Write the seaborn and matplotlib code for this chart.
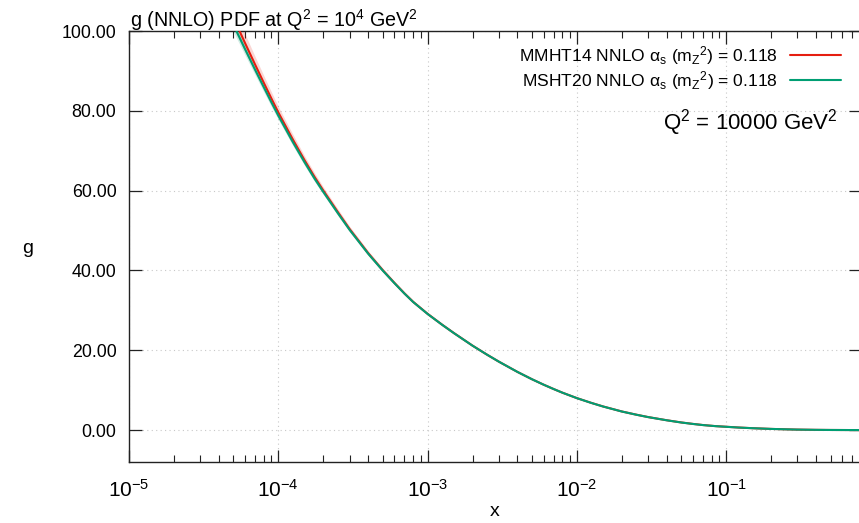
import numpy as np
import pandas as pd
import matplotlib
matplotlib.use("Agg")
import matplotlib.pyplot as plt
import matplotlib.ticker as mticker
from matplotlib.lines import Line2D
import seaborn as sns

# ---- data ----
x_vals = [4.5e-5, 5e-5, 6e-5, 7e-5, 8e-5, 9e-5,
          1e-4, 1.25e-4, 1.5e-4, 1.75e-4, 2e-4, 2.5e-4, 3e-4, 4e-4, 5e-4, 6e-4, 7e-4, 8e-4,
          1e-3, 1.25e-3, 1.5e-3, 2e-3, 2.5e-3, 3e-3, 4e-3, 5e-3, 6e-3, 7e-3, 8e-3,
          1e-2, 1.25e-2, 1.5e-2, 2e-2, 2.5e-2, 3e-2, 4e-2, 5e-2, 6e-2, 7e-2, 8.5e-2,
          0.1, 0.12, 0.15, 0.2, 0.25, 0.3, 0.4, 0.5, 0.65, 0.8]
g_mmht14 = [107.3, 103.4, 96.9, 91.55, 87.0, 83.05,
            79.6, 72.85, 67.6, 63.42, 60.05, 54.67, 50.4, 44.34, 40.1, 36.87, 34.25, 32.14,
            29.13, 26.42, 24.32, 21.16, 18.9, 17.15, 14.57, 12.74, 11.36, 10.27, 9.37,
            8.01, 6.81, 5.91, 4.66, 3.86, 3.26, 2.46, 1.91, 1.54, 1.26, 0.99,
            0.83, 0.65, 0.47, 0.29, 0.19, 0.12, 0.055, 0.025, 0.008, 0.002]
err_mmht14 = [3.0, 2.7, 2.3, 2.0, 1.8, 1.65,
              1.5, 1.3, 1.1, 1.0, 0.9, 0.8, 0.7, 0.6, 0.5, 0.45, 0.4, 0.37,
              0.35, 0.32, 0.3, 0.25, 0.22, 0.2, 0.19, 0.18, 0.16, 0.15, 0.14,
              0.12, 0.11, 0.1, 0.08, 0.075, 0.07, 0.06, 0.05, 0.045, 0.04, 0.035,
              0.03, 0.025, 0.02, 0.015, 0.012, 0.01, 0.007, 0.005, 0.003, 0.001]
g_msht20 = [105.3, 101.6, 95.4, 90.25, 85.9, 82.1,
            78.8, 72.2, 67.1, 63.0, 59.7, 54.4, 50.2, 44.2, 40.0, 36.8, 34.2, 32.1,
            29.1, 26.4, 24.3, 21.15, 18.9, 17.15, 14.57, 12.74, 11.36, 10.27, 9.37,
            8.0, 6.8, 5.9, 4.65, 3.85, 3.25, 2.45, 1.9, 1.53, 1.25, 0.98,
            0.82, 0.64, 0.47, 0.29, 0.19, 0.12, 0.055, 0.025, 0.008, 0.002]
err_msht20 = [2.0, 1.8, 1.5, 1.3, 1.2, 1.1,
              1.0, 0.9, 0.8, 0.7, 0.6, 0.55, 0.5, 0.45, 0.4, 0.35, 0.3, 0.28,
              0.25, 0.23, 0.2, 0.18, 0.16, 0.15, 0.14, 0.13, 0.12, 0.11, 0.1,
              0.09, 0.08, 0.07, 0.06, 0.055, 0.05, 0.045, 0.04, 0.035, 0.03, 0.025,
              0.02, 0.018, 0.015, 0.01, 0.009, 0.008, 0.006, 0.004, 0.002, 0.001]
labels = [r"MMHT14 NNLO $\alpha_s$ ($m_Z{}^2$) = 0.118",
          r"MSHT20 NNLO $\alpha_s$ ($m_Z{}^2$) = 0.118"]
colors = ["#e51e10", "#009e73"]
title = r"g (NNLO) PDF at Q$^2$ = 10$^4$ GeV$^2$"
scale_note = r"Q$^2$ = 10000 GeV$^2$"

# ---- style ----
sns.set_theme(style="ticks")
plt.rcParams["font.family"] = ["Liberation Sans", "DejaVu Sans"]
plt.rcParams["mathtext.fontset"] = "custom"
plt.rcParams["mathtext.rm"] = "Liberation Sans"
plt.rcParams["mathtext.it"] = "Liberation Sans:italic"
plt.rcParams["mathtext.bf"] = "Liberation Sans:bold"
plt.rcParams["mathtext.default"] = "regular"
plt.rcParams["text.color"] = "#000000"
plt.rcParams["xtick.labelcolor"] = "#000000"
plt.rcParams["ytick.labelcolor"] = "#000000"

W, H = 859, 523
fig = plt.figure(figsize=(W / 100, H / 100), dpi=100)
ax_l, ax_r, ax_t, ax_b = 129, 861, 31, 462
ax = fig.add_axes([ax_l / W, 1 - ax_b / H, (ax_r - ax_l) / W, (ax_b - ax_t) / H])
ax.set_xscale("log")

df = pd.DataFrame({
    "x": x_vals * 2,
    "g": g_mmht14 + g_msht20,
    "pdf": [labels[0]] * len(x_vals) + [labels[1]] * len(x_vals),
})

# uncertainty bands
for gv, ev, c in [(g_mmht14, err_mmht14, colors[0]), (g_msht20, err_msht20, colors[1])]:
    gv = np.array(gv); ev = np.array(ev)
    ax.fill_between(x_vals, gv - ev, gv + ev, color=c, alpha=0.18, lw=0, zorder=1)

sns.lineplot(data=df, x="x", y="g", hue="pdf", hue_order=labels,
             palette=colors, linewidth=1.5, ax=ax, zorder=3, legend=False,
             estimator=None, sort=False)

ax.set_xlim(1e-5, 0.8)
ax.set_ylim(-8, 100)
ax.set_xlabel("")
ax.set_ylabel("")

# grid
ax.grid(True, which="major", color="#c8c8c8", linestyle=(0, (1, 3)), linewidth=0.8)
ax.set_axisbelow(True)

# ticks
ax.xaxis.set_major_locator(mticker.LogLocator(base=10, numticks=10))
ax.xaxis.set_minor_locator(mticker.LogLocator(base=10, subs=np.arange(2, 10), numticks=20))
ax.xaxis.set_minor_formatter(mticker.NullFormatter())
ax.yaxis.set_major_locator(mticker.MultipleLocator(20))
ax.yaxis.set_major_formatter(mticker.FormatStrFormatter("%.2f"))
ax.tick_params(axis="both", which="both", direction="in", top=True, right=True,
               color="#222222")
ax.tick_params(axis="both", which="major", length=9, width=0.9)
ax.tick_params(axis="x", which="minor", length=5, width=0.8)
ax.tick_params(axis="y", which="major", labelsize=12.8, pad=9)
ax.tick_params(axis="x", which="major", labelsize=15, pad=12)
for s in ax.spines.values():
    s.set_color("#222222")
    s.set_linewidth(1.0)

# legend
handles = [Line2D([], [], color=c, lw=1.5) for c in colors]
leg = ax.legend(handles, labels, loc="upper right",
                bbox_to_anchor=(841 / W, 1 - 44 / H), bbox_transform=fig.transFigure,
                frameon=False, markerfirst=False, fontsize=12.6, handlelength=2.9,
                handletextpad=0.7, labelspacing=0.12, borderpad=0, borderaxespad=0)

# texts
fig.text(130 / W, 1 - 27 / H, title, ha="left", va="baseline", fontsize=14.2)
fig.text(838 / W, 1 - 130 / H, scale_note, ha="right", va="baseline", fontsize=16)
fig.text(27.5 / W, 1 - 253 / H, "g", ha="center", va="baseline", fontsize=14)
fig.text(495 / W, 1 - 516 / H, "x", ha="center", va="baseline", fontsize=14)

fig.savefig("out.png", dpi=100)
